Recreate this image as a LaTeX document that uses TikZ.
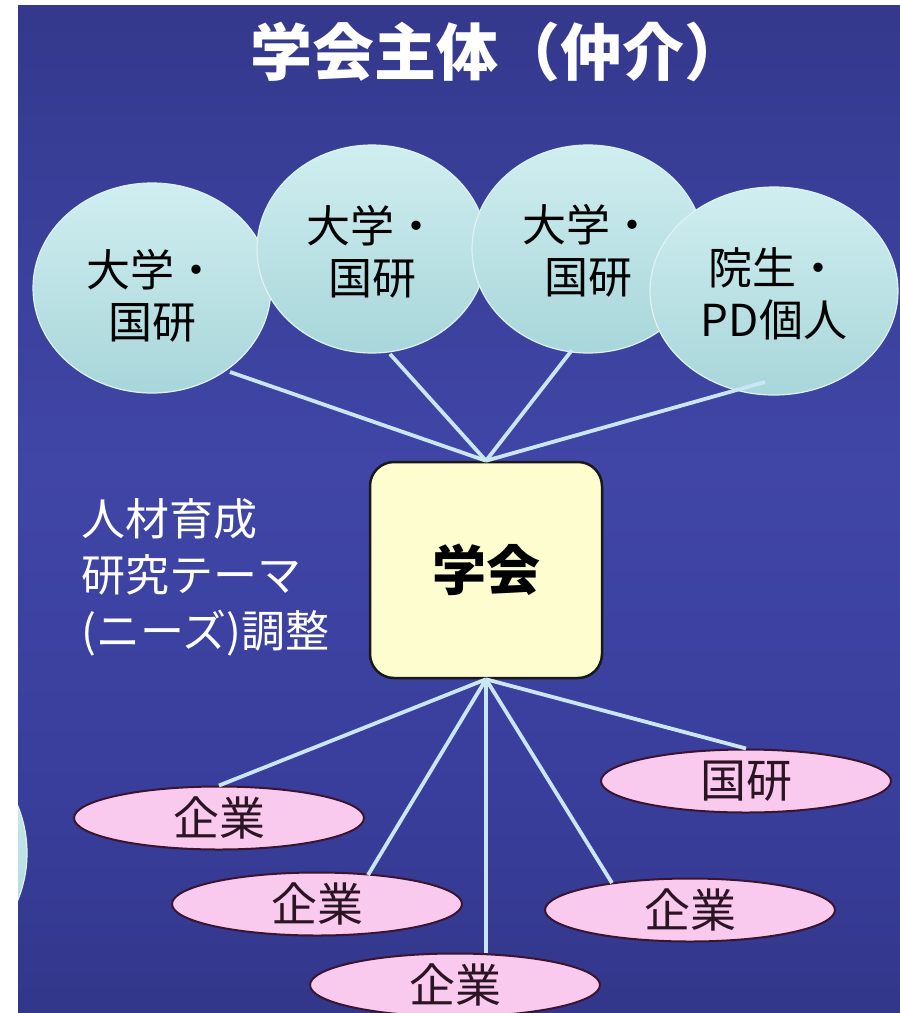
\documentclass[tikz,border=0pt]{standalone}
\usepackage{fontspec}
\setmainfont{Noto Sans CJK JP}
\usetikzlibrary{shapes.geometric,calc}
\definecolor{bg0}{HTML}{28296A}
\definecolor{bg1}{HTML}{303484}
\definecolor{bg2}{HTML}{393E9C}
\definecolor{bg3}{HTML}{4046A6}
\definecolor{bg4}{HTML}{363B92}
\definecolor{bg5}{HTML}{2D3174}
\definecolor{bg6}{HTML}{2C3070}
\pgfdeclareverticalshading{bgsh}{100bp}{color(0bp)=(bg0); color(21bp)=(bg1); color(36bp)=(bg2); color(52bp)=(bg3); color(71bp)=(bg4); color(89bp)=(bg5); color(100bp)=(bg6)}
\definecolor{cyT}{HTML}{D0EEF0}
\definecolor{cyB}{HTML}{A8D6DA}
\definecolor{cyE}{HTML}{DDF3F3}
\definecolor{pinkF}{HTML}{F9C9EE}
\definecolor{pinkE}{HTML}{3B1530}
\definecolor{pinkT}{HTML}{2B1424}
\definecolor{hubF}{HTML}{FEFDCF}
\definecolor{lnk}{HTML}{CBE6F3}
\tikzset{
  circ/.style={ellipse, inner sep=0pt, top color=cyT, bottom color=cyB, draw=cyE, line width=1.2pt},
  ctext/.style={font=\fontsize{44}{52}\selectfont, text=black, align=center, inner sep=0pt},
  pill/.style={ellipse, inner sep=0pt, fill=pinkF, draw=pinkE, line width=2pt,
    minimum width=290pt, minimum height=63pt, font=\fontsize{46}{50}\selectfont, text=pinkT},
  hub/.style={rectangle, rounded corners=24pt, draw=black!90, line width=2.5pt, fill=hubF,
    minimum width=232pt, minimum height=216pt, font=\bfseries\fontsize{54}{60}\selectfont, text=black},
  link/.style={draw=lnk, line width=3.8pt}
}
\begin{document}
\begin{tikzpicture}[x=1pt,y=-1pt]
\useasboundingbox (0,0) rectangle (900,1013);
\fill[white] (0,0) rectangle (900,1013);
\shade[shading=bgsh] (18,5) rectangle (900,1013);
\begin{scope}
  \clip (18,5) rectangle (900,1013);
  \node[circ, minimum width=250pt, minimum height=250pt] (c0) at (-98,853) {};
\end{scope}
\node[text=white, font=\bfseries\fontsize{62}{70}\selectfont] (title) at (498,52) {学会主体（仲介）};
\node[circ, minimum width=238pt, minimum height=210pt,
  label={[ctext, yshift=-8pt]center:{大学・\\国研}}] (c1) at (152,288) {};
\node[circ, minimum width=230pt, minimum height=208pt,
  label={[ctext, yshift=-3pt]center:{大学・\\国研}}] (c2) at (372,249) {};
\node[circ, minimum width=232pt, minimum height=208pt,
  label={[ctext, yshift=-2pt]center:{大学・\\国研}}] (c3) at (588,249) {};
\node[circ, minimum width=248pt, minimum height=208pt,
  label={[ctext, yshift=-3pt]center:{院生・\\PD個人}}] (c4) at (774,291) {};
\node[hub] (hub) at (486,570) {学会};
\node[anchor=west, align=left, text=white, font=\fontsize{44}{56}\selectfont] (lbl) at (78,577) {人材育成\\研究テーマ\\(ニーズ)調整};
\node[pill] (p1) at (219,818) {企業};
\node[pill] (p2) at (317,904) {企業};
\node[pill] (p3) at (455,985) {企業};
\node[pill] (p4) at (690,910) {企業};
\node[pill] (p5) at (746,781) {国研};
\draw[link] (hub.north) -- ($(c1.center)+(78,84)$);
\draw[link] (hub.north) -- ($(c2.center)+(18,105)$);
\draw[link] (hub.north) -- ($(c3.center)+(-16,101)$);
\draw[link] (hub.north) -- ($(c4.center)+(-9,91)$);
\draw[link] (hub.south) -- (p1.north);
\draw[link] (hub.south) -- ($(p2.center)+(51,-29)$);
\draw[link] (hub.south) -- (hub.south |- p3.north);
\draw[link] (hub.south) -- ($(p4.center)+(-78,-27)$);
\draw[link] (hub.south) -- (p5.north);
\end{tikzpicture}
\end{document}
